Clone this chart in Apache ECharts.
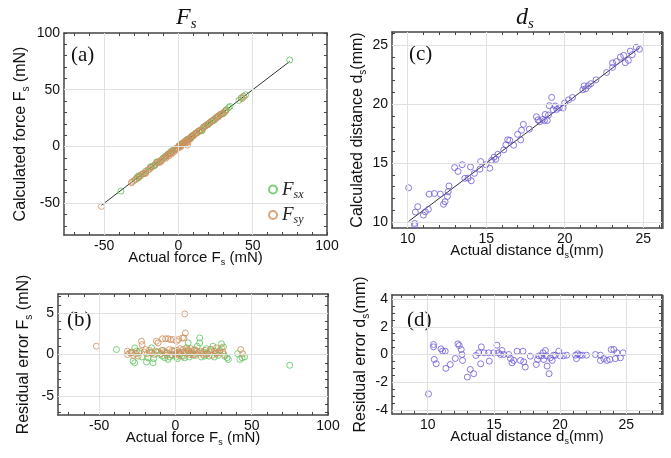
<!DOCTYPE html>
<html>
<head>
<meta charset="utf-8">
<script src="https://cdn.jsdelivr.net/npm/echarts@6/dist/echarts.min.js"></script>
<style>
  html, body { margin: 0; padding: 0; background: #fff; }
  #chart { width: 671px; height: 458px; }
</style>
</head>
<body>
<div id="chart"></div>
<script>
// Force estimation, x component: actual force (mN) and residual error (mN)
const fsxActual = [-38.7, -29.0, -27.8, -26.7, -26.7, -25.5, -24.0, -19.0, -18.0, -15.7,
  -14.7, -14.3, -12.0, -10.3, -8.5, -7.0, -4.8, -3.7, -2.0, 0.5,
  1.2, 3.0, 5.0, 7.2, 8.3, 8.3, 10.0, 11.6, 13.8, 14.3,
  15.9, 15.9, 17.0, 18.5, 20.2, 22.0, 23.6, 24.6, 26.5, 28.0,
  30.2, 32.3, 33.9, 34.7, 40.7, 42.2, 43.7, 45.3, 74.9,
  -22.0, -16.5, -9.0, -5.5, -1.0, 2.0, 6.0, 9.0, 12.5, 19.0, 21.0, 25.5, 29.0, 31.5];
const fsxResidual = [0.6, 0.2, -0.8, -1.0, 0.8, 0.4, 0.2, -0.9, -0.4, 0.8,
  -1.0, -0.5, 0.3, 0.0, -0.2, -0.4, -0.6, -0.3, -0.1, -0.3,
  -0.5, 0.1, -0.2, 0.8, 1.4, 0.4, 0.2, -0.1, 0.1, 1.0,
  2.0, 1.4, -0.3, 0.3, 0.7, -0.2, 0.6, 1.0, 0.2, -0.1,
  1.3, -0.2, -0.4, -0.6, 0.1, -0.6, -0.4, -0.3, -1.3,
  -0.3, 0.3, 0.5, 0.2, 0.4, 0.2, -0.4, -0.3, 0.5, -0.2, 0.2, -0.3, 0.5, 0.9];

// Force estimation, y component
const fsyActual = [-51.8, -31.5, -31.4, -30.0, -27.5, -23.4, -22.3, -21.9, -20.5, -18.5,
  -17.0, -15.5, -12.5, -11.4, -11.0, -9.5, -8.5, -8.0, -6.4, -6.0,
  -4.8, -4.0, -3.3, -2.5, -1.5, -1.0, 0.0, 0.7, 1.0, 1.7,
  2.5, 3.5, 4.6, 5.0, 5.6, 6.1, 6.5, 7.0, 8.5, 9.5,
  11.0, 12.5, 13.5, 15.0, 16.5, 18.0, 19.5, 21.0, 22.5, 24.0,
  25.5, 26.9, 28.0, 30.2, 31.0, 42.8, 44.1,
  -28.5, -26.0, -24.5, -19.5, -14.0, -13.0, -7.0, -5.5, -2.0, 0.5,
  2.0, 3.0, 4.0, 6.0, 7.8, 9.0, 10.0, 12.0, 14.0, 17.0, 20.0, 23.0, 27.0, 29.0, 32.0];
const fsyResidual = [1.0, 0.4, 0.0, 0.2, -0.1, 0.4, 1.6, 1.2, 0.3, 0.1,
  0.5, 0.2, 1.6, 1.4, 0.3, 0.1, 1.9, 0.5, 1.9, 0.2,
  1.9, 0.6, 1.8, 0.0, 1.8, 0.4, 0.1, 1.6, 0.5, 1.8,
  -0.1, 0.3, 2.0, 0.6, 2.0, 4.9, 2.6, 0.2, 0.5, 0.0,
  0.3, 0.6, -0.1, 0.2, 0.4, 0.0, 0.5, 0.1, 0.3, -0.1,
  0.4, 0.8, 0.2, 0.8, 0.3, 0.6, 0.1,
  0.3, 0.1, -0.2, 0.6, 0.0, 0.4, 0.3, -0.1, 0.5, 0.0,
  0.3, 0.7, -0.2, 0.3, 0.6, 0.2, 0.7, 0.0, 0.4, 0.2, 0.0, 0.6, 0.1, 0.3, 0.0];

// Distance estimation: actual distance (mm) and residual error (mm)
const dsActual = [10.06, 10.44, 10.44, 10.49, 10.64, 11.0, 11.12, 11.32, 11.37, 11.7,
  12.08, 12.28, 12.38, 12.53, 12.58, 12.63, 12.99, 13.21, 13.47, 13.64,
  13.85, 14.05, 14.0, 14.25, 14.6, 14.65, 14.98, 15.23, 15.35, 15.5,
  15.61, 15.74, 16.12, 16.25, 16.37, 16.5, 16.75, 17.0, 17.2, 17.25,
  17.37, 17.75, 18.2, 18.3, 18.4, 18.6, 18.71, 18.76, 18.89, 18.97,
  19.02, 19.17, 19.27, 19.4, 19.5, 19.65, 19.9, 20.0, 20.25, 20.5,
  21.16, 21.24, 21.34, 21.5, 21.67, 22.0, 22.67, 23.05, 23.05, 23.3,
  23.55, 23.76, 23.86, 24.06, 24.18, 24.3, 24.56, 24.76];
const dsResidual = [-2.85, 0.72, 0.55, -0.36, -0.67, 0.41, 0.25, 0.24, -1.0, -0.72,
  -0.29, 0.77, 0.65, 0.36, 0.0, -0.43, -1.63, -1.08, -1.39, -0.07,
  0.12, 0.55, -0.67, 0.12, 0.12, -0.48, 0.12, 0.67, 0.12, 0.0,
  0.29, 0.0, 0.0, -0.29, -0.6, -0.43, 0.24, -0.43, 0.24, -0.53,
  -0.91, -0.12, -0.72, -0.36, -0.1, -0.1, 0.12, -0.36, 0.29, -0.1,
  -0.84, -1.39, -0.24, -0.43, -0.05, -0.05, 0.24, -0.1, -0.1, -0.05,
  -0.05, -0.3, 0.05, -0.05, -0.05, -0.05, 0.0, -0.05, -0.43, -0.3,
  -0.43, -0.36, 0.36, 0.36, -0.3, 0.12, -0.24, 0.12];

// Tick labels
const forceTicks = [-50, 0, 50, 100];
const forceResidualTicks = [-5, 0, 5];
const distTicks = [10, 15, 20, 25];
const distResidualTicks = [-4, -2, 0, 2, 4];

const GREEN = '#5cc45a';
const ORANGE = '#d08f5c';
const PURPLE = '#6b5bd9';
const FRAME = '#444';
const GRIDLINE = '#e0e0e0';
const SANS = '"Liberation Sans", Arial, sans-serif';
const SERIF = '"Liberation Serif", "Times New Roman", serif';

// evenly spaced minor tick positions along the frame
function steps(from, to, step) {
  const out = [];
  for (let v = from; v <= to + 1e-9; v += step) out.push(+v.toFixed(6));
  return out;
}

function nameStyle(size) {
  return {
    fontFamily: SANS, fontSize: size, color: '#111',
    rich: {
      t: { fontFamily: SANS, fontSize: size, color: '#111' },
      s: { fontFamily: SANS, fontSize: Math.round(size * 0.62), color: '#111', padding: [Math.round(size * 0.65), 0, 0, 0] }
    }
  };
}

function axisPair(dim, grid, min, max, labels, minor, name, nameGap) {
  const main = {
    type: 'value', gridIndex: grid, min, max,
    position: dim === 'x' ? 'bottom' : 'left',
    axisLine: { show: true, onZero: false, lineStyle: { color: FRAME, width: 1.5 } },
    axisTick: { show: true, inside: true, length: 3, customValues: minor, lineStyle: { color: FRAME, width: 1 } },
    axisLabel: { show: true, customValues: labels, color: '#111', fontSize: 14, fontFamily: SANS, margin: 4 },
    splitLine: { show: false },
    name, nameLocation: 'middle', nameGap,
    nameTextStyle: nameStyle(dim === 'x' ? 15 : 16),
    nameMoveOverlap: false
  };
  const twin = {
    type: 'value', gridIndex: grid, min, max,
    position: dim === 'x' ? 'top' : 'right',
    axisLine: { show: true, onZero: false, lineStyle: { color: FRAME, width: 1.5 } },
    axisTick: { show: true, inside: true, length: 3, customValues: minor, lineStyle: { color: FRAME, width: 1 } },
    axisLabel: { show: false },
    splitLine: { show: false }
  };
  return [main, twin];
}

const ranges = [
  { x: [-77, 100], y: [-78, 100] },
  { x: [-77, 100], y: [-7.3, 7.3] },
  { x: [9, 26.2], y: [9.5, 26.1] },
  { x: [7.3, 27.7], y: [-4.3, 4.3] }
];

const grids = [
  { left: 64, top: 33, width: 263, height: 202 },   // (a)
  { left: 58, top: 294, width: 270, height: 121 },  // (b)
  { left: 392, top: 32, width: 270, height: 196 },  // (c)
  { left: 392, top: 295, width: 270, height: 119 }  // (d)
].map(g => Object.assign({ outerBoundsMode: 'none', containLabel: false }, g));

const forceX = '{t|Actual force F}{s|s}{t| (mN)}';
const distX = '{t|Actual distance d}{s|s}{t|(mm)}';
const xAxes = [
  ...axisPair('x', 0, ranges[0].x[0], ranges[0].x[1], forceTicks, steps(-70, 100, 10), forceX, 13),
  ...axisPair('x', 1, ranges[1].x[0], ranges[1].x[1], forceTicks, steps(-70, 100, 10), forceX, 13),
  ...axisPair('x', 2, ranges[2].x[0], ranges[2].x[1], distTicks, steps(9, 26, 1), distX, 13),
  ...axisPair('x', 3, ranges[3].x[0], ranges[3].x[1], distTicks, steps(8, 27, 1), distX, 13)
];
const yAxes = [
  ...axisPair('y', 0, ranges[0].y[0], ranges[0].y[1], forceTicks, steps(-70, 100, 10), '{t|Calculated force F}{s|s}{t| (mN)}', 33),
  ...axisPair('y', 1, ranges[1].y[0], ranges[1].y[1], forceResidualTicks, steps(-7, 7, 1), '{t|Residual error F}{s|s}{t| (mN)}', 24),
  ...axisPair('y', 2, ranges[2].y[0], ranges[2].y[1], distTicks, steps(10, 26, 1), '{t|Calculated distance d}{s|s}{t|(mm)}', 24),
  ...axisPair('y', 3, ranges[3].y[0], ranges[3].y[1], distResidualTicks, steps(-4, 4, 0.5), '{t|Residual error d}{s|s}{t|(mm)}', 21)
];

// light reference lines at labelled tick values inside each panel
function gridLines(grid, xVals, yVals) {
  const r = ranges[grid];
  const inside = (v, lim) => v > lim[0] && v < lim[1];
  return {
    type: 'scatter', xAxisIndex: grid * 2, yAxisIndex: grid * 2, z: 0, silent: true,
    data: [[r.x[0], r.y[0]]], symbolSize: 0, itemStyle: { opacity: 0 },
    markLine: {
      silent: true, symbol: ['none', 'none'], animation: false,
      label: { show: false },
      lineStyle: { color: GRIDLINE, width: 1, type: 'solid' },
      emphasis: { disabled: true },
      data: xVals.filter(v => inside(v, r.x)).map(v => ({ xAxis: v }))
        .concat(yVals.filter(v => inside(v, r.y)).map(v => ({ yAxis: v })))
    }
  };
}

function identityLine(grid, actual) {
  const lo = Math.min(...actual), hi = Math.max(...actual);
  return {
    type: 'line', xAxisIndex: grid * 2, yAxisIndex: grid * 2, z: 2, silent: true,
    data: [[lo, lo], [hi, hi]], symbol: 'none',
    lineStyle: { color: '#333', width: 1 }
  };
}

function scatter(name, grid, xs, ys, color) {
  return {
    name, type: 'scatter', xAxisIndex: grid * 2, yAxisIndex: grid * 2, z: 3,
    data: xs.map((x, i) => [x, ys[i]]),
    symbol: 'circle', symbolSize: 6,
    itemStyle: { color: 'rgba(255,255,255,0)', borderColor: color, borderWidth: 1 }
  };
}

const calc = (actual, resid) => actual.map((a, i) => +(a - resid[i]).toFixed(3));

const option = {
  animation: false,
  backgroundColor: '#fff',
  grid: grids,
  xAxis: xAxes,
  yAxis: yAxes,
  legend: {
    data: ['Fsx', 'Fsy'],
    orient: 'vertical', left: 263, top: 175,
    itemWidth: 8, itemHeight: 8, itemGap: 5,
    formatter: n => '{f|F}{s|' + n.slice(1) + '}',
    textStyle: {
      rich: {
        f: { fontFamily: SERIF, fontStyle: 'italic', fontSize: 19, color: '#222' },
        s: { fontFamily: SERIF, fontStyle: 'italic', fontSize: 12, color: '#222', padding: [10, 0, 0, 0] }
      }
    }
  },
  graphic: [
    { type: 'text', left: 176, top: 6, style: { text: '{f|F}{s|s}', rich: {
      f: { font: 'italic 24px ' + SERIF, fill: '#111' },
      s: { font: 'italic 15px ' + SERIF, fill: '#111', padding: [12, 0, 0, 0] } } } },
    { type: 'text', left: 516, top: 6, style: { text: '{f|d}{s|s}', rich: {
      f: { font: 'italic 24px ' + SERIF, fill: '#111' },
      s: { font: 'italic 15px ' + SERIF, fill: '#111', padding: [12, 0, 0, 0] } } } },
    { type: 'text', left: 71, top: 45, style: { text: '(a)', font: '21px ' + SERIF, fill: '#111' } },
    { type: 'text', left: 67, top: 310, style: { text: '(b)', font: '21px ' + SERIF, fill: '#111' } },
    { type: 'text', left: 409, top: 44, style: { text: '(c)', font: '21px ' + SERIF, fill: '#111' } },
    { type: 'text', left: 407, top: 310, style: { text: '(d)', font: '21px ' + SERIF, fill: '#111' } },
    // heavier right edge on the distance panels
    { type: 'rect', left: 661, top: 32, shape: { width: 3, height: 197 }, style: { fill: '#8c8c8c' } },
    { type: 'rect', left: 661, top: 295, shape: { width: 3, height: 120 }, style: { fill: '#8c8c8c' } }
  ],
  series: [
    gridLines(0, forceTicks, forceTicks),
    gridLines(1, forceTicks, forceResidualTicks),
    gridLines(2, distTicks, distTicks),
    gridLines(3, distTicks, distResidualTicks),
    identityLine(0, fsxActual.concat(fsyActual)),
    identityLine(2, dsActual),
    scatter('Fsx', 0, fsxActual, calc(fsxActual, fsxResidual), GREEN),
    scatter('Fsy', 0, fsyActual, calc(fsyActual, fsyResidual), ORANGE),
    scatter('Fsx', 1, fsxActual, fsxResidual, GREEN),
    scatter('Fsy', 1, fsyActual, fsyResidual, ORANGE),
    scatter('ds', 2, dsActual, calc(dsActual, dsResidual), PURPLE),
    scatter('ds', 3, dsActual, dsResidual, PURPLE)
  ]
};

const chart = echarts.init(document.getElementById('chart'), null, { renderer: 'canvas' });
chart.setOption(option);
</script>
</body>
</html>
